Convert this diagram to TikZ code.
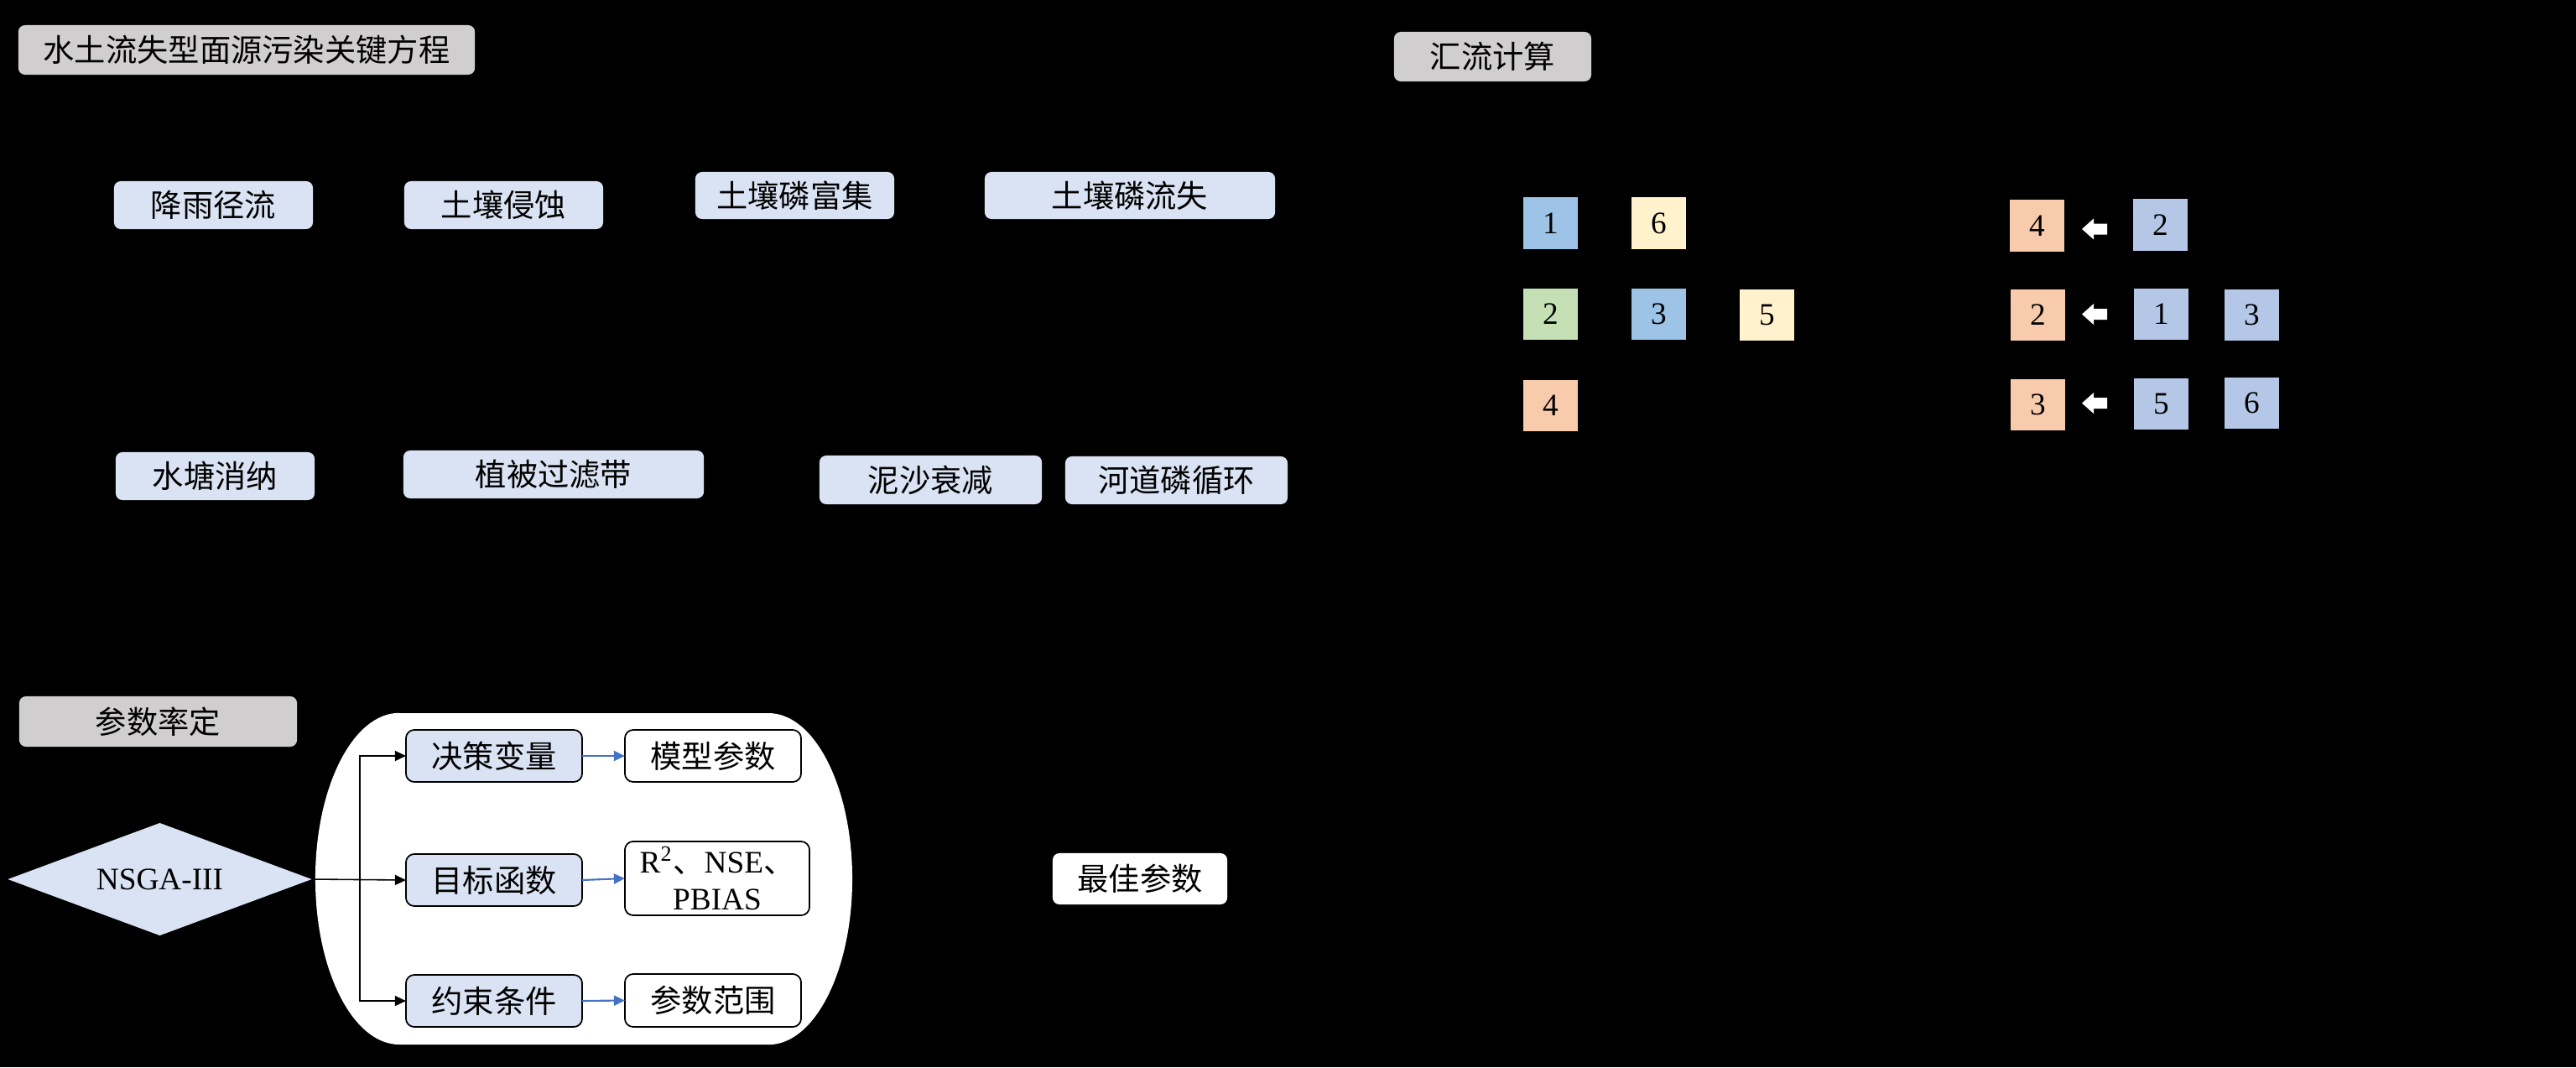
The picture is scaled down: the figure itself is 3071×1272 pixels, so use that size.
\documentclass[tikz,border=0pt]{standalone}
\usepackage{fontspec}
\setmainfont{Liberation Serif}
\newfontfamily\cjk{Noto Sans CJK SC}
\usetikzlibrary{shapes.geometric,arrows.meta}

\definecolor{hdrgray}{HTML}{D0CECE}
\definecolor{paleblue}{HTML}{DAE3F3}
\definecolor{skyblue}{HTML}{9DC3E6}
\definecolor{creamy}{HTML}{FFF2CC}
\definecolor{leaf}{HTML}{C5E0B4}
\definecolor{salmon}{HTML}{F8CBAD}
\definecolor{steel}{HTML}{B4C7E7}
\definecolor{linkblue}{HTML}{4472C4}

\newcommand\fs{\fontsize{10.6pt}{12.4pt}\selectfont}
% white block arrow pointing left, centred on a named coordinate
\newcommand\leftblock[1]{\fill[white] (#1) ++(-15,0) -- ++(14,-12.5) -- ++(0,6) -- ++(16,0) -- ++(0,13) -- ++(-16,0) -- ++(0,6) -- cycle;}

\begin{document}
\begin{tikzpicture}[x=0.01cm,y=-0.01cm,
  every node/.style={inner sep=0pt, outer sep=0pt},
  hdr/.style={fill=hdrgray, rounded corners=0.08cm, font=\cjk\fs},
  proc/.style={fill=paleblue, rounded corners=0.08cm, font=\cjk\fs, minimum height=0.57cm},
  sq/.style={minimum width=0.65cm, minimum height=0.61cm, font=\fs},
  opt/.style={fill=paleblue, draw=black, line width=0.5pt, rounded corners=0.1cm,
              minimum width=2.1cm, minimum height=0.62cm, font=\cjk\fs},
  res/.style={fill=white, draw=black, line width=0.5pt, rounded corners=0.1cm,
              minimum width=2.1cm, minimum height=0.62cm, font=\cjk\fs},
  blk/.style={draw=black, line width=0.45pt, -{Triangle[length=0.13cm,width=0.12cm]}},
  blu/.style={draw=linkblue, line width=0.6pt, -{Triangle[length=0.13cm,width=0.12cm]}}
]
% canvas
\fill[black] (0,0) rectangle (3071,1272);
\useasboundingbox (0,0) rectangle (3071,1272);

% section headers
\node[hdr, minimum width=5.44cm, minimum height=0.59cm] (hA) at (294,59.5) {水土流失型面源污染关键方程};
\node[hdr, minimum width=2.35cm, minimum height=0.59cm] (hB) at (1779.5,67.5) {汇流计算};
\node[hdr, minimum width=3.31cm, minimum height=0.60cm] (hC) at (188.5,860) {参数率定};

% key equations
\node[proc, minimum width=2.37cm] (rain) at (254.5,244.5) {降雨径流};
\node[proc, minimum width=2.37cm] (eros) at (600.5,244.5) {土壤侵蚀};
\node[proc, minimum width=2.37cm, minimum height=0.56cm] (enr) at (947.5,233) {土壤磷富集};
\node[proc, minimum width=3.46cm, minimum height=0.56cm] (loss) at (1347,233) {土壤磷流失};
\node[proc, minimum width=2.37cm] (pond) at (256.5,567.5) {水塘消纳};
\node[proc, minimum width=3.58cm] (veg) at (660,565.5) {植被过滤带};
\node[proc, minimum width=2.65cm, minimum height=0.58cm] (sed) at (1109.5,572) {泥沙衰减};
\node[proc, minimum width=2.65cm] (chan) at (1402.5,572.5) {河道磷循环};

% flow routing: sub-basin layout
\node[sq, fill=skyblue] (a1) at (1848.5,266) {1};
\node[sq, fill=creamy]  (a6) at (1977.5,266) {6};
\node[sq, fill=leaf]    (a2) at (1848.5,374.5) {2};
\node[sq, fill=skyblue] (a3) at (1977.5,374.5) {3};
\node[sq, fill=creamy]  (a5) at (2106.5,375.5) {5};
\node[sq, fill=salmon]  (a4) at (1848.5,483.5) {4};

% flow routing: upstream to downstream
\node[sq, fill=salmon] (d4) at (2428.5,269) {4};
\node[sq, fill=steel]  (u2) at (2575.5,268) {2};
\node[sq, fill=salmon] (d2) at (2429.5,375.5) {2};
\node[sq, fill=steel]  (u1) at (2576.5,374.5) {1};
\node[sq, fill=steel]  (u3) at (2684.5,375.5) {3};
\node[sq, fill=salmon] (d3) at (2429.5,482.5) {3};
\node[sq, fill=steel]  (u5) at (2576.5,481.5) {5};
\node[sq, fill=steel]  (u6) at (2684.5,480.5) {6};
\coordinate (f1) at (2497,273);
\coordinate (f2) at (2497,374.5);
\coordinate (f3) at (2497,480.5);
\leftblock{f1}
\leftblock{f2}
\leftblock{f3}

% calibration panel
\fill[white] (476,850) -- (916,850)
  arc[start angle=90, end angle=-90, x radius=1cm, y radius=1.975cm]
  -- (476,1245)
  arc[start angle=270, end angle=90, x radius=1cm, y radius=1.975cm] -- cycle;

\node[diamond, fill=paleblue, aspect=2.7, minimum width=3.62cm, minimum height=1.34cm, font=\fs] (nsga) at (190.5,1048) {NSGA-III};

\node[opt] (dec) at (589,901) {决策变量};
\node[opt] (obj) at (589,1049) {目标函数};
\node[opt] (con) at (589,1193) {约束条件};

\node[res] (mod) at (850,901) {模型参数};
\node[res, minimum width=2.2cm, minimum height=0.88cm, font=\fs, align=center] (met) at (855,1047)
  {R\textsuperscript{2}{\cjk 、}NSE{\cjk 、}\\PBIAS};
\node[res, minimum height=0.63cm] (rng) at (850,1192.5) {参数范围};

\node[fill=white, rounded corners=0.08cm, minimum width=2.08cm, minimum height=0.61cm, font=\cjk\fs] (best) at (1359,1047.5) {最佳参数};

\coordinate (j) at (429,1049);
\draw[blk] (nsga.east) -- (obj.west);
\draw[blk] (j) |- (dec.west);
\draw[blk] (j) |- (con.west);

\draw[blu] (dec.east) -- (mod.west);
\draw[blu] (obj.east) -- (met.west);
\draw[blu] (con.east) -- (rng.west);
\end{tikzpicture}
\end{document}
